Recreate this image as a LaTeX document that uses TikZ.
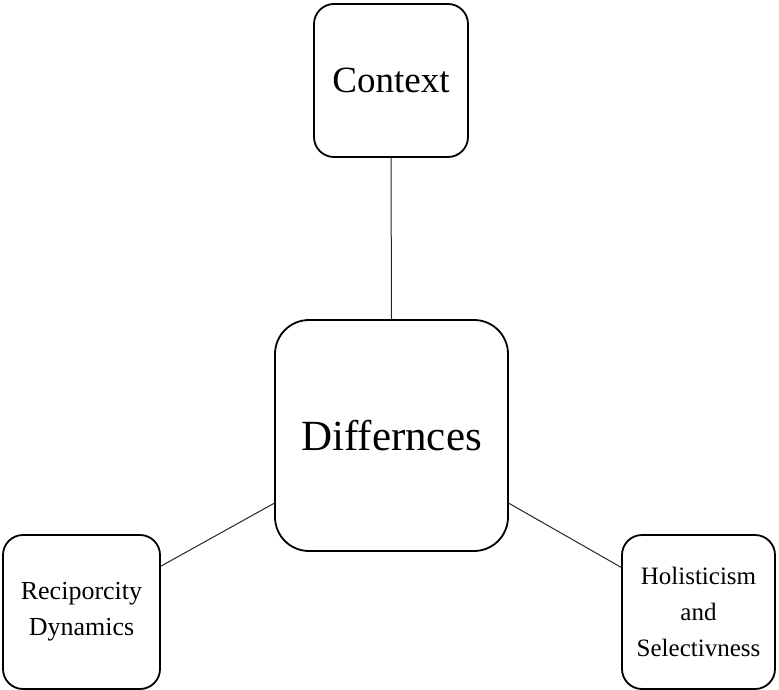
\documentclass[tikz,border=0pt]{standalone}
\usepackage{fontspec}
\setmainfont{Liberation Serif}
\begin{document}
\begin{tikzpicture}[x=1pt,y=-1pt,
  box/.style={draw=black, line width=1.8pt, rounded corners=20pt, align=center, inner sep=0pt},
  link/.style={draw=black!85, line width=1pt}]
\useasboundingbox[fill=white] (0,0) rectangle (779,690);

\node[box, minimum width=154pt, minimum height=153pt,
      font=\fontsize{37}{44}\selectfont] (ctx) at (391,80.5) {Context};
\node[box, rounded corners=34pt, minimum width=233pt, minimum height=231pt,
      font=\fontsize{43}{50}\selectfont] (dif) at (391.5,435.5) {Differnces};
\node[box, minimum width=157pt, minimum height=154pt,
      font=\fontsize{26}{36}\selectfont] (rec) at (81.5,612) {Reciporcity\\Dynamics};
\node[box, minimum width=153pt, minimum height=154pt,
      font=\fontsize{25}{36}\selectfont] (hol) at (698.5,612) {Holisticism\\and\\Selectivness};

\draw[link] (ctx.south) -- (dif.north);
\draw[link] (dif.210) -- (rec.30);
\draw[link] (dif.330) -- (hol.150);
\end{tikzpicture}
\end{document}
